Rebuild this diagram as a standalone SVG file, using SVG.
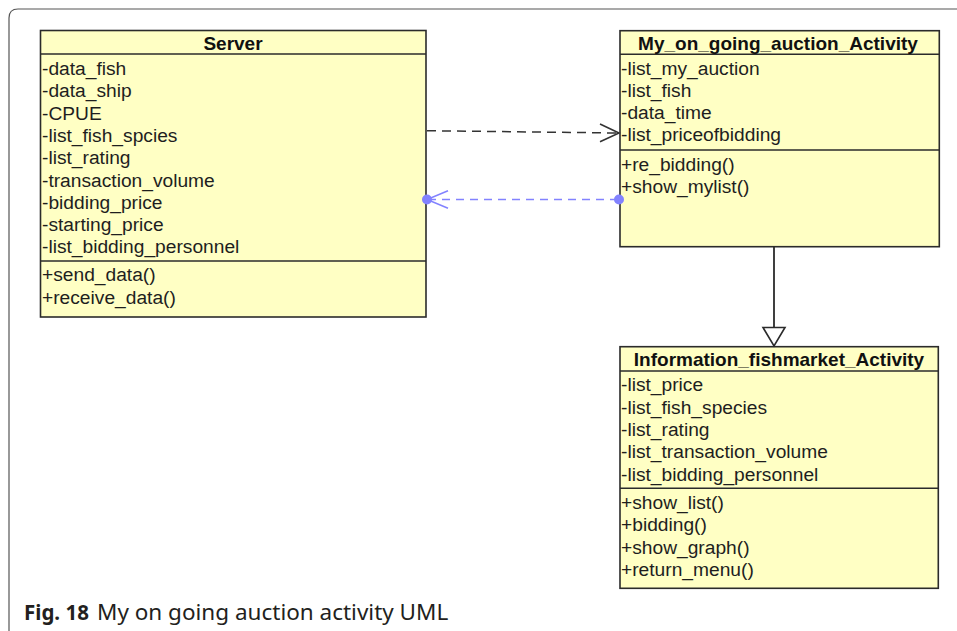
<svg xmlns="http://www.w3.org/2000/svg" width="957" height="631" viewBox="0 0 957 631">
<style>
.box{fill:#ffffc4;stroke:#2b2b2b;stroke-width:1.6}
.sep{stroke:#2b2b2b;stroke-width:1.4}
.t{font-family:"Liberation Sans",Arial,sans-serif;font-size:19.2px;fill:#1e1e1e}
.h{font-family:"Liberation Sans",Arial,sans-serif;font-size:19px;font-weight:bold;fill:#111;text-anchor:middle}
.cap{font-family:"Noto Sans","Open Sans",sans-serif;font-size:22.5px;fill:#231f20}
</style>
<rect width="957" height="631" fill="#fff"/>
<path d="M9,631 V18 Q9,9 18,9 H957" fill="none" stroke="#555" stroke-width="1.2"/>
<g id="Server">
<rect class="box" x="40.5" y="30.5" width="385.5" height="286.5"/>
<line class="sep" x1="40.5" y1="54" x2="426" y2="54"/>
<line class="sep" x1="40.5" y1="261" x2="426" y2="261"/>
<text class="h" x="233" y="49.5">Server</text>
<text class="t" x="42" y="75">-data_fish</text>
<text class="t" x="42" y="97.3">-data_ship</text>
<text class="t" x="42" y="119.6">-CPUE</text>
<text class="t" x="42" y="141.9">-list_fish_spcies</text>
<text class="t" x="42" y="164.2">-list_rating</text>
<text class="t" x="42" y="186.5">-transaction_volume</text>
<text class="t" x="42" y="208.8">-bidding_price</text>
<text class="t" x="42" y="231.1">-starting_price</text>
<text class="t" x="42" y="253.4">-list_bidding_personnel</text>
<text class="t" x="42" y="281">+send_data()</text>
<text class="t" x="42" y="303.5">+receive_data()</text>
</g>
<g id="MyOnGoing">
<rect class="box" x="620" y="30.7" width="319.3" height="216"/>
<line class="sep" x1="620" y1="54.3" x2="939.3" y2="54.3"/>
<line class="sep" x1="620" y1="150" x2="939.3" y2="150"/>
<text class="h" x="778" y="49.5">My_on_going_auction_Activity</text>
<text class="t" x="621" y="75.3">-list_my_auction</text>
<text class="t" x="621" y="97">-list_fish</text>
<text class="t" x="621" y="119">-data_time</text>
<text class="t" x="621" y="141">-list_priceofbidding</text>
<text class="t" x="621" y="170.5">+re_bidding()</text>
<text class="t" x="621" y="192.5">+show_mylist()</text>
</g>
<g id="InfoFishmarket">
<rect class="box" x="620" y="346.7" width="318.3" height="241.6"/>
<line class="sep" x1="620" y1="371" x2="938.3" y2="371"/>
<line class="sep" x1="620" y1="488.3" x2="938.3" y2="488.3"/>
<text class="h" x="779" y="365.5">Information_fishmarket_Activity</text>
<text class="t" x="621" y="391">-list_price</text>
<text class="t" x="621" y="413.5">-list_fish_species</text>
<text class="t" x="621" y="436">-list_rating</text>
<text class="t" x="621" y="457.8">-list_transaction_volume</text>
<text class="t" x="621" y="481">-list_bidding_personnel</text>
<text class="t" x="621" y="508.5">+show_list()</text>
<text class="t" x="621" y="531">+bidding()</text>
<text class="t" x="621" y="553.5">+show_graph()</text>
<text class="t" x="621" y="575.5">+return_menu()</text>
</g>
<g id="connectors">
<line x1="427" y1="130.7" x2="617" y2="133" stroke="#333" stroke-width="1.5" stroke-dasharray="9,6"/>
<polyline points="600,124 619,133 600,141.7" fill="none" stroke="#333" stroke-width="1.6"/>
<line x1="428" y1="199.5" x2="618" y2="199.5" stroke="#8282ff" stroke-width="1.5" stroke-dasharray="8,6"/>
<polyline points="448,190.7 427,199.5 448,208.3" fill="none" stroke="#8282ff" stroke-width="1.5"/>
<circle cx="427" cy="199.5" r="5" fill="#8282ff"/>
<circle cx="619" cy="199.5" r="5" fill="#8282ff"/>
<line x1="774" y1="247" x2="774" y2="327.5" stroke="#2b2b2b" stroke-width="1.8"/>
<polygon points="763,327.5 785,327.5 774,346" fill="#fff" stroke="#2b2b2b" stroke-width="1.6"/>
</g>
<text class="cap" x="24" y="620"><tspan font-weight="bold" font-size="20.5px">Fig. 18</tspan><tspan x="97">My on going auction activity UML</tspan></text>
</svg>
